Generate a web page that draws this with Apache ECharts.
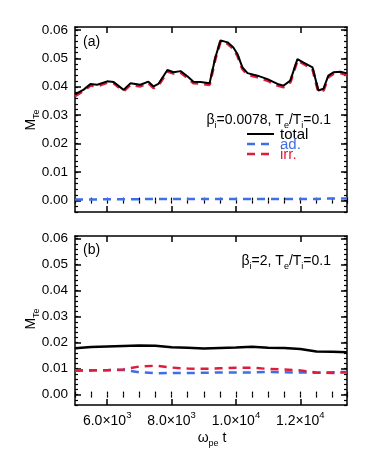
<!DOCTYPE html>
<html>
<head>
<meta charset="UTF-8">
<title>M_Te vs time</title>
<script src="https://cdn.jsdelivr.net/npm/echarts@6.0.0/dist/echarts.min.js"></script>
<style>
  * { margin: 0; padding: 0; }
  body { background: #fff; }
  #chart { width: 374px; height: 463px; }
</style>
</head>
<body>
<div id="chart"></div>
<script>
// panel (a): beta_i = 0.0078
const timeA = [5000, 5270, 5480, 5690, 6000, 6200, 6510, 6720, 7030, 7280, 7440, 7590, 7870, 8060, 8280, 8490, 8680, 8900, 9180, 9360, 9520, 9740, 9920, 10050, 10200, 10360, 10670, 10980, 11290, 11480, 11690, 11910, 12100, 12380, 12560, 12720, 12870, 13030, 13250, 13450];
const totalA = [0.0373, 0.0390, 0.0410, 0.0407, 0.0419, 0.0417, 0.0389, 0.0412, 0.0407, 0.0418, 0.0401, 0.0410, 0.0459, 0.0451, 0.0455, 0.0437, 0.0418, 0.0417, 0.0412, 0.0503, 0.0563, 0.0556, 0.0538, 0.0514, 0.0468, 0.0448, 0.0439, 0.0427, 0.0410, 0.0404, 0.0422, 0.0497, 0.0485, 0.0468, 0.0387, 0.0393, 0.0439, 0.0451, 0.0453, 0.0447];
const irrA = [0.0368, 0.0386, 0.0405, 0.0402, 0.0415, 0.0413, 0.0385, 0.0407, 0.0402, 0.0414, 0.0396, 0.0405, 0.0454, 0.0447, 0.0451, 0.0432, 0.0413, 0.0412, 0.0407, 0.0499, 0.0559, 0.0552, 0.0534, 0.0509, 0.0463, 0.0443, 0.0434, 0.0422, 0.0405, 0.0399, 0.0417, 0.0493, 0.0481, 0.0463, 0.0382, 0.0388, 0.0434, 0.0446, 0.0448, 0.0442];
const adA = [0.0004, 0.0004, 0.0004, 0.0004, 0.0005, 0.0005, 0.0005, 0.0005, 0.0005, 0.0006, 0.0006, 0.0006, 0.0006, 0.0006, 0.0006, 0.0006, 0.0006, 0.0006, 0.0006, 0.0006, 0.0006, 0.0006, 0.0006, 0.0006, 0.0006, 0.0006, 0.0006, 0.0006, 0.0006, 0.0006, 0.0006, 0.0006, 0.0006, 0.0006, 0.0006, 0.0007, 0.0007, 0.0007, 0.0007, 0.0007];

// panel (b): beta_i = 2
const timeB = [5000, 5500, 6000, 6500, 7000, 7500, 8000, 8500, 9000, 9500, 10000, 10500, 11000, 11500, 12000, 12500, 13000, 13450];
const totalB = [0.0178, 0.0183, 0.0185, 0.0187, 0.0189, 0.0188, 0.0182, 0.0180, 0.0177, 0.0179, 0.0181, 0.0184, 0.0180, 0.0179, 0.0175, 0.0166, 0.0165, 0.0163];
const irrB = [0.0092, 0.0093, 0.0094, 0.0097, 0.0108, 0.0111, 0.0104, 0.0100, 0.0099, 0.0101, 0.0103, 0.0103, 0.0099, 0.0097, 0.0093, 0.0085, 0.0083, 0.0086];
const adB = [0.0093, 0.0094, 0.0094, 0.0095, 0.0086, 0.0082, 0.0083, 0.0083, 0.0084, 0.0085, 0.0085, 0.0085, 0.0087, 0.0086, 0.0085, 0.0084, 0.0086, 0.0087];

// axes
const xTicks = [6000, 8000, 10000, 12000];
const xTickLabels = ['{m|6.0×10}{e|3}', '{m|8.0×10}{e|3}', '{m|1.0×10}{e|4}', '{m|1.2×10}{e|4}'];
const yTicks = [0, 0.01, 0.02, 0.03, 0.04, 0.05, 0.06];
const yTickLabels = ['0.00', '0.01', '0.02', '0.03', '0.04', '0.05', '0.06'];

const FONT = 'Liberation Sans';
const BLACK = '#000';
const BLUE = '#3f6fe6';
const RED = '#dc1e3c';

const chart = echarts.init(document.getElementById('chart'));

function pair(arrX, arrY) {
    return arrX.map((t, i) => [t, arrY[i]]);
}

// four x axes and four y axes per grid (main + minor, both sides)
const xAxes = [];
const yAxes = [];
[0, 1].forEach(g => {
    const showLabels = g === 1;
    ['bottom', 'top'].forEach(pos => {
        xAxes.push({
            type: 'value', gridIndex: g, position: pos, min: 5000, max: 13450,
            axisLine: { show: true, onZero: false, lineStyle: { color: BLACK, width: 1.5 } },
            axisTick: { inside: true, length: 6, customValues: xTicks, lineStyle: { color: BLACK, width: 1.5 } },
            axisLabel: (showLabels && pos === 'bottom') ? {
                show: true, customValues: xTicks, margin: 5,
                formatter: v => xTickLabels[xTicks.indexOf(v)],
                rich: {
                    m: { fontFamily: FONT, fontSize: 14, color: BLACK, lineHeight: 18, verticalAlign: 'bottom' },
                    e: { fontFamily: FONT, fontSize: 9.5, color: BLACK, lineHeight: 10, verticalAlign: 'top' }
                }
            } : { show: false },
            splitLine: { show: false }
        });
        xAxes.push({
            type: 'value', gridIndex: g, position: pos, min: 5000, max: 13450, interval: 500,
            axisLine: { show: false },
            axisTick: { inside: true, length: 3, lineStyle: { color: BLACK, width: 1.2 } },
            axisLabel: { show: false },
            splitLine: { show: false }
        });
    });
    ['left', 'right'].forEach(pos => {
        yAxes.push({
            type: 'value', gridIndex: g, position: pos, min: -0.004, max: 0.061,
            axisLine: { show: true, onZero: false, lineStyle: { color: BLACK, width: 1.5 } },
            axisTick: { inside: true, length: 6, customValues: yTicks, lineStyle: { color: BLACK, width: 1.5 } },
            axisLabel: pos === 'left' ? {
                show: true, customValues: yTicks, margin: 7,
                fontFamily: FONT, fontSize: 13.5, color: BLACK,
                formatter: v => yTickLabels[yTicks.indexOf(v)]
            } : { show: false },
            splitLine: { show: false }
        });
        yAxes.push({
            type: 'value', gridIndex: g, position: pos, min: -0.004, max: 0.061, interval: 0.002,
            axisLine: { show: false },
            axisTick: { inside: true, length: 3, lineStyle: { color: BLACK, width: 1.2 } },
            axisLabel: { show: false },
            splitLine: { show: false }
        });
    });
});

function line(grid, data, color, width, dashed, z) {
    return {
        type: 'line', xAxisIndex: grid * 4, yAxisIndex: grid * 4,
        data: data, showSymbol: false, symbol: 'none', smooth: false, z: z,
        lineStyle: { color: color, width: width, type: dashed ? [8, 6] : 'solid' },
        animation: false
    };
}

const richLabel = {
    m: { fontFamily: FONT, fontSize: 14, color: BLACK, lineHeight: 20, verticalAlign: 'middle' },
    s: { fontFamily: FONT, fontSize: 9, color: BLACK, lineHeight: 9, verticalAlign: 'bottom' }
};

// rich text placed by anchor point
function txt(x, y, text, align, rotation) {
    return {
        type: 'text', x: x, y: y, rotation: rotation || 0,
        style: { text: text, rich: richLabel, align: align || 'left', verticalAlign: 'middle' }
    };
}

function plain(x, y, text, color) {
    return {
        type: 'text', x: x, y: y,
        style: { text: text, fill: color, font: '15px ' + FONT, align: 'left', verticalAlign: 'middle' }
    };
}

chart.setOption({
    animation: false,
    grid: [
        { left: 75, top: 27, right: 27, height: 185, outerBoundsMode: 'none' },
        { left: 75, top: 236, right: 27, height: 169, outerBoundsMode: 'none' }
    ],
    xAxis: xAxes,
    yAxis: yAxes,
    series: [
        line(0, pair(timeA, adA), BLUE, 2.5, true, 2),
        line(0, pair(timeA, irrA), RED, 3, true, 3),
        line(0, pair(timeA, totalA), BLACK, 2, false, 4),
        line(1, pair(timeB, adB), BLUE, 2.5, true, 2),
        line(1, pair(timeB, irrB), RED, 2.5, true, 3),
        line(1, pair(timeB, totalB), BLACK, 2.5, false, 4)
    ],
    graphic: [
        txt(83, 42, '{m|(a)}'),
        txt(83, 250, '{m|(b)}'),
        txt(331, 120, '{m|β}{s|i}{m|=0.0078, T}{s|e}{m|/T}{s|i}{m|=0.1}', 'right'),
        txt(331, 261, '{m|β}{s|i}{m|=2, T}{s|e}{m|/T}{s|i}{m|=0.1}', 'right'),
        // legend
        { type: 'line', shape: { x1: 247, y1: 134, x2: 274, y2: 134 }, style: { stroke: BLACK, lineWidth: 2 } },
        { type: 'line', shape: { x1: 247, y1: 144, x2: 274, y2: 144 }, style: { stroke: BLUE, lineWidth: 2.5, lineDash: [8, 6] } },
        { type: 'line', shape: { x1: 247, y1: 154, x2: 274, y2: 154 }, style: { stroke: RED, lineWidth: 2.5, lineDash: [8, 6] } },
        plain(280, 135, 'total', BLACK),
        plain(280, 145, 'ad.', BLUE),
        plain(280, 155, 'irr.', RED),
        // y names
        txt(31, 120, '{m|M}{s|Te}', 'center', Math.PI / 2),
        txt(31, 319, '{m|M}{s|Te}', 'center', Math.PI / 2),
        // x name
        txt(212, 438, '{m|ω}{s|pe}{m| t}', 'center')
    ]
});
</script>
</body>
</html>
